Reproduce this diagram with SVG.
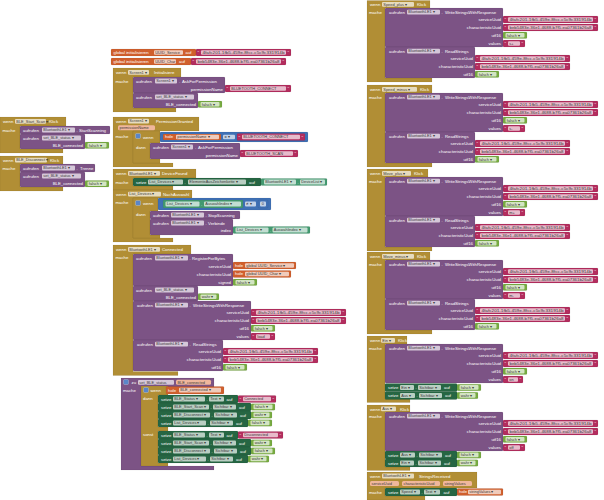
<svg xmlns="http://www.w3.org/2000/svg" width="604" height="500" viewBox="0 0 604 500">
<style>
text{font-family:"Liberation Sans",Arial,sans-serif;font-size:4.3px;fill:#fff}
text.d{fill:#3a3a3a;font-size:3.9px}
text.r{text-anchor:end}
.ev{fill:#B18E35}
.pu{fill:#7C5385}
.pk{fill:#B32D5E}
.lg{fill:#77AB41}
.sg{fill:#266643}
.gg{fill:#439970}
.or{fill:#D05F2D}
.bl{fill:#3F71B5}
.f{fill:#fff;fill-opacity:.68}
.pa{fill:#F0B79C}
.gear{fill:#5A86C8;stroke:#fff;stroke-opacity:.6;stroke-width:.4}
.ev,.pu,.pk,.lg,.sg,.gg,.or,.bl{stroke:#000;stroke-opacity:.15;stroke-width:.4}
</style>
<defs>
<g id="fa"><rect class="lg" width="24" height="6.5" rx="1"/><rect class="f" x="2.5" y="0.9" width="19" height="4.7" rx="1"/><text class="d" x="3.8" y="4.5">falsch ▾</text></g>
<g id="wa"><rect class="lg" width="21" height="6.5" rx="1"/><rect class="f" x="2.5" y="0.9" width="16" height="4.7" rx="1"/><text class="d" x="3.8" y="4.5">wahr ▾</text></g>
<g id="ps"><rect class="pk" width="95" height="7" rx="1"/><text x="1.6" y="5.3">"</text><rect class="f" x="5" y="1.2" width="85" height="4.6" rx="1"/><text class="d" x="6.5" y="4.8" textLength="82" lengthAdjust="spacingAndGlyphs">4fafc201-1fb5-459e-8fcc-c5c9c331914b</text><text x="91.4" y="5.3">"</text></g>
<g id="pc"><rect class="pk" width="95" height="7" rx="1"/><text x="1.6" y="5.3">"</text><rect class="f" x="5" y="1.2" width="85" height="4.6" rx="1"/><text class="d" x="6.5" y="4.8" textLength="82" lengthAdjust="spacingAndGlyphs">beb5483e-36e1-4688-b7f5-ea07361b26a8</text><text x="91.4" y="5.3">"</text></g>
<g id="W">
<rect class="pu" width="118" height="39" rx="1"/>
<text x="4" y="5.8">aufrufen</text>
<rect class="f" x="22" y="1.8" width="33" height="4.8" rx="1"/><text class="d" x="23.3" y="5.4">BluetoothLE1 ▾</text>
<text x="56.5" y="5.8">.</text><text x="60" y="5.8">WriteStringsWithResponse</text>
<text class="r" x="116" y="13">serviceUuid</text>
<text class="r" x="116" y="21">characteristicUuid</text>
<text class="r" x="116" y="28.8">utf16</text>
<text class="r" x="116" y="37">values</text>
<use href="#ps" x="118" y="8"/>
<use href="#pc" x="118" y="16"/>
<use href="#fa" x="118" y="24"/>
</g>
<g id="R">
<rect class="pu" width="90" height="31" rx="1"/>
<text x="4" y="5.8">aufrufen</text>
<rect class="f" x="22" y="1.8" width="33" height="4.8" rx="1"/><text class="d" x="23.3" y="5.4">BluetoothLE1 ▾</text>
<text x="56.5" y="5.8">.</text><text x="60" y="5.8">ReadStrings</text>
<text class="r" x="88" y="13">serviceUuid</text>
<text class="r" x="88" y="21">characteristicUuid</text>
<text class="r" x="88" y="28.8">utf16</text>
<use href="#ps" x="90" y="8"/>
<use href="#pc" x="90" y="16"/>
<use href="#fa" x="90" y="24"/>
</g>
</defs>
<rect width="604" height="500" fill="#fff"/>

<g id="connectors"></g>

<!-- Left column -->
<g id="blk_start_scan">
<path class="ev" d="M0,117h66v9H20V149h43v4H0Z"/>
<text x="3" y="123">wenn</text>
<rect class="f" x="15" y="119" width="31" height="4.8" rx="1"/><text class="d" x="16.3" y="122.6">BLE_Start_Scan ▾</text>
<text x="49" y="123">Klick</text>
<text x="2.5" y="131.5">mache</text>
<rect class="pu" x="20" y="126" width="90" height="8" rx="1"/>
<text x="23" y="131.6">aufrufen</text>
<rect class="f" x="42" y="127.6" width="33" height="4.8" rx="1"/><text class="d" x="43.3" y="131.2">BluetoothLE1 ▾</text>
<text x="76.5" y="131.6">.</text><text x="79" y="131.6">StartScanning</text>
<rect class="pu" x="20" y="134" width="65" height="15" rx="1"/>
<text x="23" y="139.6">aufrufen</text>
<rect class="f" x="42" y="135.6" width="39" height="4.8" rx="1"/><text class="d" x="43.3" y="139.2">set_BLE_status ▾</text>
<text class="r" x="83" y="146.6">BLE_connected</text>
<use href="#fa" x="85" y="142"/>
</g>

<g id="blk_disconnect">
<path class="ev" d="M0,156h63v8H20V187h43v4H0Z"/>
<text x="3" y="161.8">wenn</text>
<rect class="f" x="15" y="157.8" width="32" height="4.8" rx="1"/><text class="d" x="16.3" y="161.4">BLE_Disconnect ▾</text>
<text x="50" y="161.8">Klick</text>
<text x="2.5" y="169.6">mache</text>
<rect class="pu" x="20" y="164" width="75" height="8" rx="1"/>
<text x="23" y="169.6">aufrufen</text>
<rect class="f" x="42" y="165.6" width="33" height="4.8" rx="1"/><text class="d" x="43.3" y="169.2">BluetoothLE1 ▾</text>
<text x="76.5" y="169.6">.</text><text x="80" y="169.6">Trenne</text>
<rect class="pu" x="20" y="172" width="65" height="15" rx="1"/>
<text x="23" y="177.6">aufrufen</text>
<rect class="f" x="42" y="173.6" width="39" height="4.8" rx="1"/><text class="d" x="43.3" y="177.2">set_BLE_status ▾</text>
<text class="r" x="83" y="184.6">BLE_connected</text>
<use href="#fa" x="85" y="180.5"/>
</g>

<!-- Middle column -->
<g id="var_uuid_service">
<rect class="or" x="111" y="49" width="85" height="7" rx="1"/>
<text x="113.5" y="54">global initialisieren</text>
<rect class="f" x="154" y="50.2" width="29" height="4.6" rx="1"/><text class="d" x="155.3" y="53.7">UUID_Service</text>
<text x="185.5" y="54">auf</text>
<use href="#ps" x="196" y="49"/>
</g>

<g id="var_uuid_char">
<rect class="or" x="111" y="58" width="80" height="7" rx="1"/>
<text x="113.5" y="63">global initialisieren</text>
<rect class="f" x="154" y="59.2" width="22" height="4.6" rx="1"/><text class="d" x="155.3" y="62.7">UUID_Char</text>
<text x="179" y="63">auf</text>
<use href="#pc" x="191" y="58"/>
</g>

<g id="blk_screen_init">
<path class="ev" d="M113,68h68v9H133V108h43v4H113Z"/>
<text x="116" y="74">wenn</text>
<rect class="f" x="128" y="70" width="21" height="4.8" rx="1"/><text class="d" x="129.3" y="73.6">Screen1 ▾</text>
<text x="154" y="74">Initialisiere</text>
<text x="115.5" y="82.5">mache</text>
<rect class="pu" x="133" y="77" width="92" height="16" rx="1"/>
<text x="136" y="82.6">aufrufen</text>
<rect class="f" x="155" y="78.6" width="22" height="4.8" rx="1"/><text class="d" x="156.3" y="82.2">Screen1 ▾</text>
<text x="179" y="82.6">.</text><text x="182" y="82.6">AskForPermission</text>
<text class="r" x="223" y="90.6">permissionName</text>
<rect class="pk" x="225" y="85" width="66" height="7" rx="1"/><text x="226.6" y="90.3">"</text><rect class="f" x="230" y="86.2" width="56" height="4.6" rx="1"/><text class="d" x="231.3" y="89.8">BLUETOOTH_CONNECT</text><text x="287.4" y="90.3">"</text>
<rect class="pu" x="133" y="93" width="65" height="15" rx="1"/>
<text x="136" y="98.6">aufrufen</text>
<rect class="f" x="155" y="94.6" width="39" height="4.8" rx="1"/><text class="d" x="156.3" y="98.2">set_BLE_status ▾</text>
<text class="r" x="196" y="105.6">BLE_connected</text>
<use href="#fa" x="198" y="101"/>
</g>

<g id="blk_perm_granted">
<path class="ev" d="M113,117h86v14H133V163h40v4H113Z"/>
<text x="116" y="122.8">wenn</text>
<rect class="f" x="128" y="118.8" width="21" height="4.8" rx="1"/><text class="d" x="129.3" y="122.4">Screen1 ▾</text>
<text x="156" y="122.8">PermissionGranted</text>
<rect class="pa" x="118" y="125.2" width="37" height="5" rx="1.5"/><text class="d" x="119.5" y="128.9">permissionName</text>
<text x="115.5" y="138">mache</text>
<path class="ev" d="M133,131h27v12H150V159h10v4H133Z"/>
<rect class="gear" x="135.5" y="133.5" width="5" height="5" rx="1"/>
<text x="143" y="138.6">wenn</text>
<rect class="bl" x="160" y="132" width="148" height="10" rx="1"/>
<rect class="or" x="163" y="134" width="58" height="6" rx="1"/>
<text x="165" y="138.3">hole</text>
<rect class="f" x="176" y="134.7" width="43" height="4.6" rx="1"/><text class="d" x="177.3" y="138.2">permissionName ▾</text>
<rect class="f" x="223" y="134.7" width="12" height="4.6" rx="1"/><text class="d" x="224.5" y="138.2">= ▾</text>
<rect class="pk" x="237" y="133.5" width="68" height="7" rx="1"/><text x="238.6" y="138.8">"</text><rect class="f" x="242" y="134.7" width="58" height="4.6" rx="1"/><text class="d" x="243.3" y="138.3">BLUETOOTH_CONNECT</text><text x="301.4" y="138.8">"</text>
<text x="136" y="149">dann</text>
<rect class="pu" x="150" y="143" width="90" height="16" rx="1"/>
<text x="153" y="148.6">aufrufen</text>
<rect class="f" x="171" y="144.6" width="22" height="4.8" rx="1"/><text class="d" x="172.3" y="148.2">Screen1 ▾</text>
<text x="195" y="148.6">.</text><text x="198" y="148.6">AskForPermission</text>
<text class="r" x="238" y="156.6">permissionName</text>
<rect class="pk" x="240" y="150" width="58" height="7" rx="1"/><text x="241.6" y="155.3">"</text><rect class="f" x="245" y="151.2" width="48" height="4.6" rx="1"/><text class="d" x="246.3" y="154.8">BLUETOOTH_SCAN</text><text x="294.4" y="155.3">"</text>
</g>

<g id="blk_device_found">
<path class="ev" d="M113,169h83v9H133V186h40v4H113Z"/>
<text x="116" y="175">wenn</text>
<rect class="f" x="128" y="171" width="32" height="4.8" rx="1"/><text class="d" x="129.3" y="174.6">BluetoothLE1 ▾</text>
<text x="162" y="175">DeviceFound</text>
<text x="115.5" y="183.6">mache</text>
<rect class="sg" x="133" y="178" width="128" height="8" rx="1"/>
<text x="136" y="183.6">setze</text>
<rect class="f" x="148" y="179.6" width="35" height="4.8" rx="1"/><text class="d" x="149.3" y="183.2">List_Devices ▾</text>
<text x="184.5" y="183.6">.</text>
<rect class="f" x="188" y="179.6" width="58" height="4.8" rx="1"/><text class="d" x="189.3" y="183.2">ElementeAusZeichenkette ▾</text>
<text x="249" y="183.6">auf</text>
<rect class="gg" x="261" y="178.5" width="66" height="7" rx="1"/>
<rect class="f" x="264" y="179.6" width="32" height="4.8" rx="1"/><text class="d" x="265.3" y="183.2">BluetoothLE1 ▾</text>
<text x="297.5" y="183.6">.</text>
<rect class="f" x="300" y="179.6" width="25" height="4.8" rx="1"/><text class="d" x="301.3" y="183.2">DeviceList ▾</text>
</g>

<g id="blk_list_after">
<path class="ev" d="M113,190h79v8H133V238h40v4H113Z"/>
<text x="116" y="195.8">wenn</text>
<rect class="f" x="128" y="191.8" width="33" height="4.8" rx="1"/><text class="d" x="129.3" y="195.4">List_Devices ▾</text>
<text x="163" y="195.8">NachAuswahl</text>
<text x="115.5" y="203.5">mache</text>
<path class="ev" d="M133,198h25v13H150V235h10v3H133Z"/>
<rect class="gear" x="135.5" y="200.5" width="5" height="5" rx="1"/>
<text x="143" y="205.2">wenn</text>
<rect class="bl" x="158" y="198" width="113" height="12" rx="1"/>
<rect class="gg" x="163" y="200" width="80" height="8" rx="1"/>
<rect class="f" x="165.5" y="201.6" width="34" height="4.8" rx="1"/><text class="d" x="166.8" y="205.2">List_Devices ▾</text>
<text x="201" y="205.6">.</text>
<rect class="f" x="204" y="201.6" width="37" height="4.8" rx="1"/><text class="d" x="205.3" y="205.2">Auswahlindex ▾</text>
<rect class="f" x="245" y="201.6" width="11" height="4.8" rx="1"/><text class="d" x="246.3" y="205.2">≠ ▾</text>
<rect class="bl" x="258" y="200" width="10" height="8" rx="1"/>
<rect class="f" x="260" y="201.6" width="6" height="4.8" rx="1"/><text class="d" x="261.8" y="205.2">0</text>
<text x="136" y="216.4">dann</text>
<rect class="pu" x="150" y="211" width="90" height="8" rx="1"/>
<text x="153" y="216.6">aufrufen</text>
<rect class="f" x="171" y="212.6" width="33" height="4.8" rx="1"/><text class="d" x="172.3" y="216.2">BluetoothLE1 ▾</text>
<text x="205.5" y="216.6">.</text><text x="208" y="216.6">StopScanning</text>
<rect class="pu" x="150" y="219" width="83" height="16" rx="1"/>
<text x="153" y="224.6">aufrufen</text>
<rect class="f" x="171" y="220.6" width="33" height="4.8" rx="1"/><text class="d" x="172.3" y="224.2">BluetoothLE1 ▾</text>
<text x="205.5" y="224.6">.</text><text x="208" y="224.6">Verbinde</text>
<text class="r" x="231" y="231.6">index</text>
<rect class="gg" x="233" y="226.5" width="77" height="7" rx="1"/>
<rect class="f" x="235.5" y="227.6" width="33" height="4.8" rx="1"/><text class="d" x="236.8" y="231.2">List_Devices ▾</text>
<text x="270" y="231.6">.</text>
<rect class="f" x="272.5" y="227.6" width="35" height="4.8" rx="1"/><text class="d" x="273.8" y="231.2">Auswahlindex ▾</text>
</g>

<g id="blk_connected">
<path class="ev" d="M113,245h78v9H133V371.5h45v4H113Z"/>
<text x="116" y="251">wenn</text>
<rect class="f" x="128" y="247" width="32" height="4.8" rx="1"/><text class="d" x="129.3" y="250.6">BluetoothLE1 ▾</text>
<text x="162" y="251">Connected</text>
<text x="115.5" y="259">mache</text>
<rect class="pu" x="133" y="254" width="100" height="32" rx="1"/>
<text x="136" y="259.6">aufrufen</text>
<rect class="f" x="155" y="255.6" width="33" height="4.8" rx="1"/><text class="d" x="156.3" y="259.2">BluetoothLE1 ▾</text>
<text x="189.5" y="259.6">.</text><text x="192" y="259.6">RegisterForBytes</text>
<text class="r" x="231" y="267.5">serviceUuid</text>
<text class="r" x="231" y="275.5">characteristicUuid</text>
<text class="r" x="231" y="283.5">signed</text>
<rect class="or" x="233" y="262" width="63" height="7" rx="1"/>
<text x="235" y="266.7">hole</text>
<rect class="f" x="245" y="263.2" width="49" height="4.6" rx="1"/><text class="d" x="246.3" y="266.7">global UUID_Service ▾</text>
<rect class="or" x="233" y="270.5" width="58" height="7" rx="1"/>
<text x="235" y="275.2">hole</text>
<rect class="f" x="245" y="271.7" width="44" height="4.6" rx="1"/><text class="d" x="246.3" y="275.2">global UUID_Char ▾</text>
<use href="#fa" x="233" y="279"/>
<rect class="pu" x="133" y="286" width="65" height="15" rx="1"/>
<text x="136" y="291.6">aufrufen</text>
<rect class="f" x="155" y="287.6" width="39" height="4.8" rx="1"/><text class="d" x="156.3" y="291.2">set_BLE_status ▾</text>
<text class="r" x="196" y="298.6">BLE_connected</text>
<use href="#wa" x="198" y="293.5"/>
<use href="#W" x="133" y="301"/>
<rect class="pk" x="251" y="333" width="24" height="7" rx="1"/><text x="252.6" y="338.3">"</text><rect class="f" x="256" y="334.2" width="14" height="4.6" rx="1"/><text class="d" x="257.3" y="337.8">load</text><text x="271.4" y="338.3">"</text>
<use href="#R" x="133" y="340"/>
</g>

<g id="proc_set_ble_status">
<path class="pu" d="M121,378h93v9H141V466H214v4H121Z"/>
<rect class="gear" x="123.5" y="379.5" width="5" height="5" rx="1"/>
<text x="131.5" y="384">zu</text>
<rect class="f" x="138" y="380" width="36" height="4.8" rx="1"/><text class="d" x="139.3" y="383.6">set_BLE_status</text>
<rect class="pa" x="176" y="379.8" width="35" height="5" rx="1.5"/><text class="d" x="177.5" y="383.5">BLE_connected</text>
<text x="123" y="391.5">mache</text>
<path class="ev" d="M141,386h27v9H158V427H168v4H158V463H168v3H141Z"/>
<rect class="gear" x="143.5" y="387.5" width="5" height="5" rx="1"/>
<text x="150.5" y="392.4">wenn</text>
<rect class="or" x="166" y="386.5" width="58" height="7.5" rx="1"/>
<text x="168" y="391.6">hole</text>
<rect class="f" x="179" y="387.8" width="42" height="4.8" rx="1"/><text class="d" x="180.3" y="391.4">BLE_connected ▾</text>
<text x="143" y="399.5">dann</text>
<text x="143" y="436">sonst</text>

<rect class="sg" x="158" y="395" width="80" height="8" rx="1"/>
<text x="161" y="400.6">setze</text>
<rect class="f" x="173" y="396.6" width="32" height="4.8" rx="1"/><text class="d" x="174.3" y="400.2">BLE_Status ▾</text>
<text x="206.5" y="400.6">.</text>
<rect class="f" x="209" y="396.6" width="15" height="4.8" rx="1"/><text class="d" x="210.3" y="400.2">Text ▾</text>
<text x="226.5" y="400.6">auf</text>
<rect class="pk" x="238" y="395.5" width="38" height="7" rx="1"/><text x="239.6" y="400.8">"</text><rect class="f" x="243" y="396.7" width="28" height="4.6" rx="1"/><text class="d" x="244.3" y="400.3">Connected</text><text x="272.4" y="400.8">"</text>

<rect class="sg" x="158" y="403" width="93" height="8" rx="1"/>
<text x="161" y="408.6">setze</text>
<rect class="f" x="173" y="404.6" width="36" height="4.8" rx="1"/><text class="d" x="174.3" y="408.2">BLE_Start_Scan ▾</text>
<text x="210.5" y="408.6">.</text>
<rect class="f" x="213" y="404.6" width="23" height="4.8" rx="1"/><text class="d" x="214.3" y="408.2">Sichtbar ▾</text>
<text x="239" y="408.6">auf</text>
<use href="#fa" x="251" y="403.7"/>

<rect class="sg" x="158" y="411" width="93" height="8" rx="1"/>
<text x="161" y="416.6">setze</text>
<rect class="f" x="173" y="412.6" width="37" height="4.8" rx="1"/><text class="d" x="174.3" y="416.2">BLE_Disconnect ▾</text>
<text x="211.5" y="416.6">.</text>
<rect class="f" x="214" y="412.6" width="23" height="4.8" rx="1"/><text class="d" x="215.3" y="416.2">Sichtbar ▾</text>
<text x="240" y="416.6">auf</text>
<use href="#wa" x="251" y="411.7"/>

<rect class="sg" x="158" y="419" width="90" height="8" rx="1"/>
<text x="161" y="424.6">setze</text>
<rect class="f" x="173" y="420.6" width="33" height="4.8" rx="1"/><text class="d" x="174.3" y="424.2">List_Devices ▾</text>
<text x="207.5" y="424.6">.</text>
<rect class="f" x="210" y="420.6" width="23" height="4.8" rx="1"/><text class="d" x="211.3" y="424.2">Sichtbar ▾</text>
<text x="236" y="424.6">auf</text>
<use href="#fa" x="248" y="419.7"/>

<rect class="sg" x="158" y="431" width="80" height="8" rx="1"/>
<text x="161" y="436.6">setze</text>
<rect class="f" x="173" y="432.6" width="32" height="4.8" rx="1"/><text class="d" x="174.3" y="436.2">BLE_Status ▾</text>
<text x="206.5" y="436.6">.</text>
<rect class="f" x="209" y="432.6" width="15" height="4.8" rx="1"/><text class="d" x="210.3" y="436.2">Text ▾</text>
<text x="226.5" y="436.6">auf</text>
<rect class="pk" x="238" y="431.5" width="45" height="7" rx="1"/><text x="239.6" y="436.8">"</text><rect class="f" x="243" y="432.7" width="35" height="4.6" rx="1"/><text class="d" x="244.3" y="436.3">Disconnected</text><text x="279.4" y="436.8">"</text>

<rect class="sg" x="158" y="439" width="93" height="8" rx="1"/>
<text x="161" y="444.6">setze</text>
<rect class="f" x="173" y="440.6" width="36" height="4.8" rx="1"/><text class="d" x="174.3" y="444.2">BLE_Start_Scan ▾</text>
<text x="210.5" y="444.6">.</text>
<rect class="f" x="213" y="440.6" width="23" height="4.8" rx="1"/><text class="d" x="214.3" y="444.2">Sichtbar ▾</text>
<text x="239" y="444.6">auf</text>
<use href="#wa" x="251" y="439.7"/>

<rect class="sg" x="158" y="447" width="93" height="8" rx="1"/>
<text x="161" y="452.6">setze</text>
<rect class="f" x="173" y="448.6" width="37" height="4.8" rx="1"/><text class="d" x="174.3" y="452.2">BLE_Disconnect ▾</text>
<text x="211.5" y="452.6">.</text>
<rect class="f" x="214" y="448.6" width="23" height="4.8" rx="1"/><text class="d" x="215.3" y="452.2">Sichtbar ▾</text>
<text x="240" y="452.6">auf</text>
<use href="#fa" x="251" y="447.7"/>

<rect class="sg" x="158" y="455" width="90" height="8" rx="1"/>
<text x="161" y="460.6">setze</text>
<rect class="f" x="173" y="456.6" width="33" height="4.8" rx="1"/><text class="d" x="174.3" y="460.2">List_Devices ▾</text>
<text x="207.5" y="460.6">.</text>
<rect class="f" x="210" y="456.6" width="23" height="4.8" rx="1"/><text class="d" x="211.3" y="460.2">Sichtbar ▾</text>
<text x="236" y="460.6">auf</text>
<use href="#wa" x="248" y="455.7"/>
</g>

<!-- Right column -->
<g id="blk_speed_plus">
<path class="ev" d="M367,0.5h63v7.5H385V78h47v4H367Z"/>
<text x="370" y="6">wenn</text>
<rect class="f" x="382" y="2" width="32" height="4.8" rx="1"/><text class="d" x="383.3" y="5.6">Speed_plus ▾</text>
<text x="417" y="6">Klick</text>
<text x="369" y="13.5">mache</text>
<use href="#W" x="385" y="8"/>
<rect class="pk" x="503" y="40" width="22" height="7" rx="1"/><text x="504.6" y="45.3">"</text><rect class="f" x="508" y="41.2" width="12" height="4.6" rx="1"/><text class="d" x="509.3" y="44.8">s+</text><text x="521.4" y="45.3">"</text>
<use href="#R" x="385" y="47"/>
</g>

<g id="blk_speed_minus">
<path class="ev" d="M367,85h65v8H385V163h47v4H367Z"/>
<text x="370" y="91">wenn</text>
<rect class="f" x="382" y="87" width="35" height="4.8" rx="1"/><text class="d" x="383.3" y="90.6">Speed_minus ▾</text>
<text x="420" y="91">Klick</text>
<text x="369" y="98.5">mache</text>
<use href="#W" x="385" y="93"/>
<rect class="pk" x="503" y="125" width="22" height="7" rx="1"/><text x="504.6" y="130.3">"</text><rect class="f" x="508" y="126.2" width="12" height="4.6" rx="1"/><text class="d" x="509.3" y="129.8">s-</text><text x="521.4" y="130.3">"</text>
<use href="#R" x="385" y="132"/>
</g>

<g id="blk_move_plus">
<path class="ev" d="M367,169h61v8H385V247h47v4H367Z"/>
<text x="370" y="175">wenn</text>
<rect class="f" x="382" y="171" width="29" height="4.8" rx="1"/><text class="d" x="383.3" y="174.6">Move_plus ▾</text>
<text x="414" y="175">Klick</text>
<text x="369" y="182.5">mache</text>
<use href="#W" x="385" y="177"/>
<rect class="pk" x="503" y="209" width="22" height="7" rx="1"/><text x="504.6" y="214.3">"</text><rect class="f" x="508" y="210.2" width="12" height="4.6" rx="1"/><text class="d" x="509.3" y="213.8">m+</text><text x="521.4" y="214.3">"</text>
<use href="#R" x="385" y="216"/>
</g>

<g id="blk_move_minus">
<path class="ev" d="M367,252h63v8H385V330h47v4H367Z"/>
<text x="370" y="258">wenn</text>
<rect class="f" x="382" y="254" width="32" height="4.8" rx="1"/><text class="d" x="383.3" y="257.6">Move_minus ▾</text>
<text x="417" y="258">Klick</text>
<text x="369" y="265.5">mache</text>
<use href="#W" x="385" y="260"/>
<rect class="pk" x="503" y="292" width="22" height="7" rx="1"/><text x="504.6" y="297.3">"</text><rect class="f" x="508" y="293.2" width="12" height="4.6" rx="1"/><text class="d" x="509.3" y="296.8">m-</text><text x="521.4" y="297.3">"</text>
<use href="#R" x="385" y="299"/>
</g>

<g id="blk_ein">
<path class="ev" d="M367,336h40v8H385V399h25v3.5H367Z"/>
<text x="370" y="342">wenn</text>
<rect class="f" x="381" y="338" width="14" height="4.8" rx="1"/><text class="d" x="382.3" y="341.6">Ein ▾</text>
<text x="398" y="342">Klick</text>
<text x="369" y="349.5">mache</text>
<use href="#W" x="385" y="344"/>
<rect class="pk" x="503" y="376" width="20" height="7" rx="1"/><text x="504.6" y="381.3">"</text><rect class="f" x="508" y="377.2" width="10" height="4.6" rx="1"/><text class="d" x="509.3" y="380.8">on</text><text x="519.4" y="381.3">"</text>
<rect class="sg" x="385" y="383.5" width="72" height="8" rx="1"/>
<text x="388" y="389.1">setze</text>
<rect class="f" x="400" y="385.1" width="14" height="4.8" rx="1"/><text class="d" x="401.3" y="388.7">Ein ▾</text>
<text x="415.5" y="389.1">.</text>
<rect class="f" x="418" y="385.1" width="23" height="4.8" rx="1"/><text class="d" x="419.3" y="388.7">Sichtbar ▾</text>
<text x="444" y="389.1">auf</text>
<use href="#fa" x="457" y="384.2"/>
<rect class="sg" x="385" y="391.5" width="72" height="8" rx="1"/>
<text x="388" y="397.1">setze</text>
<rect class="f" x="400" y="393.1" width="15" height="4.8" rx="1"/><text class="d" x="401.3" y="396.7">Aus ▾</text>
<text x="416.5" y="397.1">.</text>
<rect class="f" x="419" y="393.1" width="23" height="4.8" rx="1"/><text class="d" x="420.3" y="396.7">Sichtbar ▾</text>
<text x="445" y="397.1">auf</text>
<use href="#wa" x="457" y="392.2"/>
</g>

<g id="blk_aus">
<path class="ev" d="M367,405h43v7H385V467h25v3.5H367Z"/>
<text x="370" y="410.5">wenn</text>
<rect class="f" x="381" y="406.5" width="15" height="4.8" rx="1"/><text class="d" x="382.3" y="410.1">Aus ▾</text>
<text x="400" y="410.5">Klick</text>
<text x="369" y="417.5">mache</text>
<use href="#W" x="385" y="412"/>
<rect class="pk" x="503" y="444" width="22" height="7" rx="1"/><text x="504.6" y="449.3">"</text><rect class="f" x="508" y="445.2" width="12" height="4.6" rx="1"/><text class="d" x="509.3" y="448.8">off</text><text x="521.4" y="449.3">"</text>
<rect class="sg" x="385" y="451" width="72" height="8" rx="1"/>
<text x="388" y="456.6">setze</text>
<rect class="f" x="400" y="452.6" width="15" height="4.8" rx="1"/><text class="d" x="401.3" y="456.2">Aus ▾</text>
<text x="416.5" y="456.6">.</text>
<rect class="f" x="419" y="452.6" width="23" height="4.8" rx="1"/><text class="d" x="420.3" y="456.2">Sichtbar ▾</text>
<text x="445" y="456.6">auf</text>
<use href="#fa" x="457" y="451.7"/>
<rect class="sg" x="385" y="459" width="72" height="8" rx="1"/>
<text x="388" y="464.6">setze</text>
<rect class="f" x="400" y="460.6" width="14" height="4.8" rx="1"/><text class="d" x="401.3" y="464.2">Ein ▾</text>
<text x="415.5" y="464.6">.</text>
<rect class="f" x="418" y="460.6" width="23" height="4.8" rx="1"/><text class="d" x="419.3" y="464.2">Sichtbar ▾</text>
<text x="444" y="464.6">auf</text>
<use href="#wa" x="457" y="459.7"/>
</g>

<g id="blk_strings_received">
<path class="ev" d="M367,472h110v16H385V496h40v4H367Z"/>
<text x="370" y="477.6">wenn</text>
<rect class="f" x="382" y="473.6" width="32" height="4.8" rx="1"/><text class="d" x="383.3" y="477.2">BluetoothLE1 ▾</text>
<text x="419" y="477.6">StringsReceived</text>
<rect class="pa" x="370" y="481" width="29" height="5" rx="1.5"/><text class="d" x="371.5" y="484.7">serviceUuid</text>
<rect class="pa" x="402" y="481" width="38" height="5" rx="1.5"/><text class="d" x="403.5" y="484.7">characteristicUuid</text>
<rect class="pa" x="443" y="481" width="29" height="5" rx="1.5"/><text class="d" x="444.5" y="484.7">stringValues</text>
<text x="369" y="494">mache</text>
<rect class="sg" x="385" y="488" width="72" height="8" rx="1"/>
<text x="388" y="493.6">setze</text>
<rect class="f" x="400" y="489.6" width="20" height="4.8" rx="1"/><text class="d" x="401.3" y="493.2">Speed ▾</text>
<text x="421.5" y="493.6">.</text>
<rect class="f" x="424" y="489.6" width="16" height="4.8" rx="1"/><text class="d" x="425.3" y="493.2">Text ▾</text>
<text x="443.5" y="493.6">auf</text>
<rect class="or" x="457" y="488.5" width="46" height="7" rx="1"/>
<text x="459" y="493.4">hole</text>
<rect class="f" x="468" y="489.7" width="33" height="4.6" rx="1"/><text class="d" x="469.3" y="493.2">stringValues ▾</text>
</g>
</svg>
